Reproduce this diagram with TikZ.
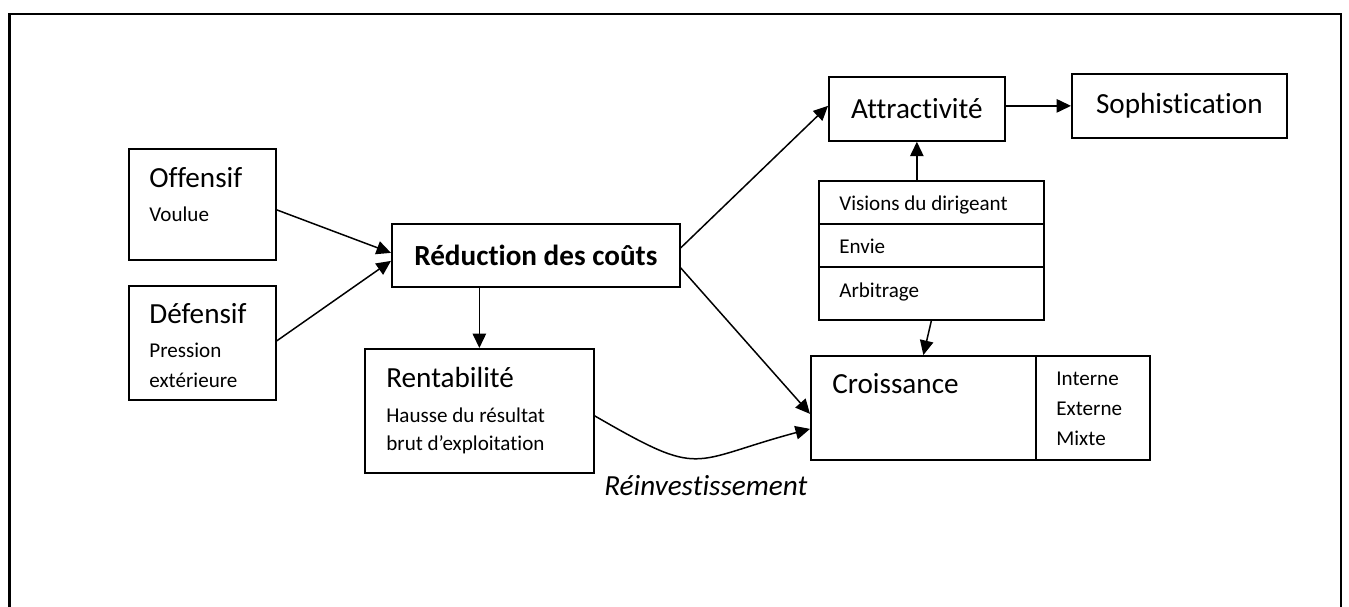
\documentclass[tikz,border=0pt]{standalone}
\usepackage{fontspec}
\setmainfont{Carlito}[Ligatures=NoCommon]
\usepackage{tikz}
\usetikzlibrary{arrows.meta}

\tikzset{
  boite/.style={draw, line width=1pt, inner sep=0pt, anchor=north west},
  grand/.style={font=\fontsize{16.6}{20}\selectfont, inner sep=0pt},
  petit/.style={font=\fontsize{12}{14}\selectfont, inner sep=0pt},
  fleche/.style={-{Triangle[length=0.29cm,width=0.27cm]}, line width=0.85pt}
}

\begin{document}
\begin{tikzpicture}[x=0.02cm,y=-0.02cm]
\useasboundingbox (0,0) rectangle (1349,606);
% cadre
\draw [line width=1.4pt] (9.5,615) -- (9.5,14) -- (1341,14) -- (1341,615);

% boites
\node [boite, minimum width=2.94cm, minimum height=2.22cm] (off) at (128,148) {};
\node [boite, minimum width=2.94cm, minimum height=2.28cm] (def) at (128,285) {};
\node [boite, minimum width=5.76cm, minimum height=1.26cm, grand, font=\fontsize{16.6}{20}\selectfont\bfseries] (red) at (391,223) {Réduction des coûts};
\node [boite, minimum width=4.58cm, minimum height=2.48cm] (ren) at (364,348) {};
\node [boite, minimum width=3.52cm, minimum height=1.28cm, grand] (att) at (828,76) {Attractivité};
\node [boite, minimum width=4.30cm, minimum height=1.28cm, grand] (sop) at (1071,73) {Sophistication};
\node [boite, minimum width=4.50cm, minimum height=0.86cm] (vis) at (818,180) {};
\node [boite, minimum width=4.50cm, minimum height=0.86cm] (env) at (818,223) {};
\node [boite, minimum width=4.50cm, minimum height=1.06cm] (arb) at (818,266) {};
\node [boite, minimum width=4.50cm, minimum height=2.08cm] (cro) at (810,355) {};
\node [boite, minimum width=2.28cm, minimum height=2.08cm] (typ) at (1035,355) {};

% textes
\node [grand, anchor=base west] (t-off) at (149,187) {Offensif};
\node [petit, anchor=base west] (s-off) at (149,221) {Voulue};
\node [grand, anchor=base west] (t-def) at (149,323) {Défensif};
\node [petit, anchor=base west] (s-def1) at (149,357) {Pression};
\node [petit, anchor=base west] (s-def2) at (149,387) {extérieure};
\node [grand, anchor=base west] (t-ren) at (386,387) {Rentabilité};
\node [petit, anchor=base west] (s-ren1) at (386,422) {Hausse du résultat};
\node [petit, anchor=base west] (s-ren2) at (386,450) {brut d’exploitation};
\node [petit, anchor=base west] (t-vis) at (839,210) {Visions du dirigeant};
\node [petit, anchor=base west] (t-env) at (839,253) {Envie};
\node [petit, anchor=base west] (t-arb) at (839,297) {Arbitrage};
\node [grand, anchor=base west] (t-cro) at (832,393) {Croissance};
\node [petit, anchor=base west] (t-int) at (1056,385) {Interne};
\node [petit, anchor=base west] (t-ext) at (1056,415) {Externe};
\node [petit, anchor=base west] (t-mix) at (1056,445) {Mixte};
\node [grand, anchor=base west, font=\fontsize{16.6}{20}\selectfont\itshape] (t-rei) at (604,495) {Réinvestissement};

% fleches
\draw [fleche] ([yshift=-0.11cm]off.east) -- ([yshift=0.05cm]red.west);
\draw [fleche] ([yshift=0.04cm]def.east) -- ([yshift=-0.11cm]red.west);
\draw [fleche] (ren.north |- red.south) -- (ren.north);
\draw [fleche] ([yshift=0.15cm]red.east) -- ([yshift=0.06cm]att.west);
\draw [fleche] ([yshift=-0.25cm]red.east) -- ([yshift=-0.12cm]cro.west);
\draw [fleche] ([yshift=-0.1cm]ren.east) to[out=-30,in=195,looseness=1.5] ([yshift=-0.42cm]cro.west);
\draw [fleche] (sop.west -| att.east) -- (sop.west);
\draw [fleche] (att.south |- vis.north) -- (att.south);
\draw [fleche] (arb.south) -- (cro.north);
\end{tikzpicture}
\end{document}
